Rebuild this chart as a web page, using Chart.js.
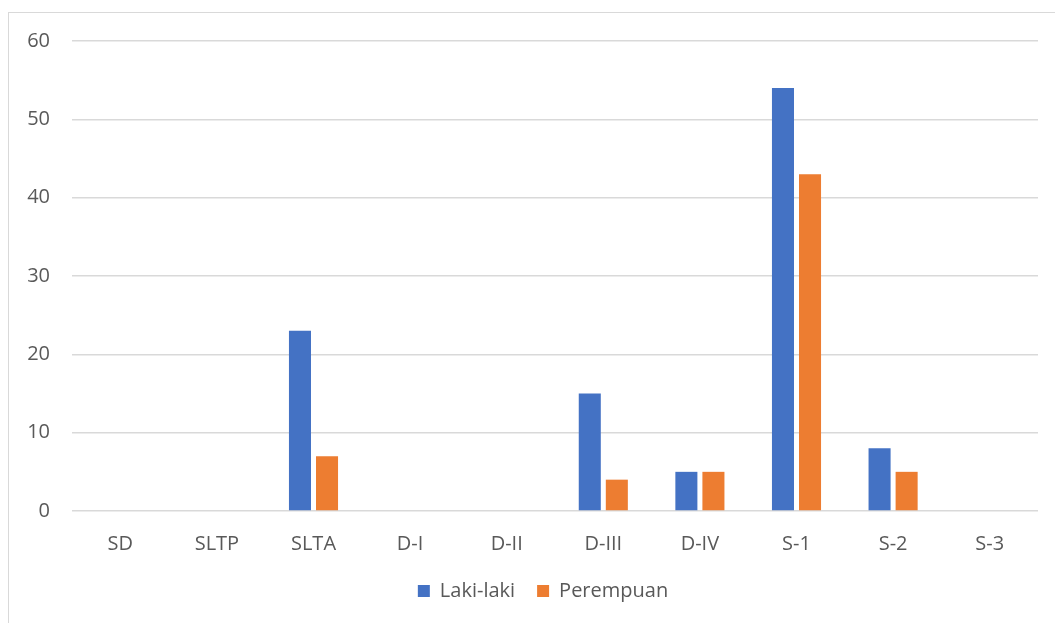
<!DOCTYPE html>
<html>
<head>
<meta charset="utf-8">
<script src="https://cdn.jsdelivr.net/npm/chart.js@4"></script>
<style>
  html, body { margin: 0; padding: 0; background: #fff; overflow: hidden; }
  #frame { position: absolute; left: 8px; top: 12px; width: 1100px; height: 700px; border: 1.5px solid #d9d9d9; }
  #wrap { position: absolute; left: 0; top: 0; width: 1055px; height: 623px; }
</style>
</head>
<body>
<div id="frame"></div>
<div id="wrap"><canvas id="myChart"></canvas></div>
<script>
const categories = ['SD', 'SLTP', 'SLTA', 'D-I', 'D-II', 'D-III', 'D-IV', 'S-1', 'S-2', 'S-3'];
const lakiLaki = [0, 0, 23, 0, 0, 15, 5, 54, 8, 0];
const perempuan = [0, 0, 7, 0, 0, 4, 5, 43, 5, 0];
const yTicks = [0, 10, 20, 30, 40, 50, 60];

const textColor = '#595959';
const fontFamily = "'Open Sans', 'Liberation Sans', sans-serif";

// legend sits a bit right of the canvas centre in the original
const shiftLegend = {
    id: 'shiftLegend',
    afterLayout: (chart) => {
        chart.legend.left += 24;
        chart.legend.right += 24;
    }
};

let ctx = document.getElementById('myChart').getContext('2d');
let myChart = new Chart(ctx, {
    type: 'bar',
    data: {
        labels: categories,
        datasets: [
            { label: 'Laki-laki', data: lakiLaki, backgroundColor: '#4472C4' },
            { label: 'Perempuan', data: perempuan, backgroundColor: '#ED7D31' }
        ]
    },
    options: {
        responsive: true,
        maintainAspectRatio: false,
        animation: false,
        categoryPercentage: 0.56,
        barPercentage: 0.815,
        layout: { padding: { top: 41, right: 17, bottom: 12, left: 0 } },
        plugins: {
            tooltip: { enabled: false },
            legend: {
                position: 'bottom',
                labels: {
                    color: textColor,
                    font: { family: fontFamily, size: 20 },
                    boxWidth: 12,
                    boxHeight: 12,
                    padding: 22
                }
            }
        },
        scales: {
            x: {
                afterFit: (scale) => { scale.height = scale.height - 10; },
                grid: { display: false },
                border: { display: false },
                ticks: { color: textColor, font: { family: fontFamily, size: 20 }, padding: 13, maxRotation: 0 }
            },
            y: {
                min: 0,
                max: 60,
                afterBuildTicks: (scale) => { scale.ticks = yTicks.map(v => ({ value: v })); },
                afterFit: (scale) => { scale.width = 72; },
                grid: { color: '#d9d9d9', lineWidth: 1.5, drawTicks: false },
                border: { display: false },
                ticks: { color: textColor, font: { family: fontFamily, size: 20 }, padding: 22 }
            }
        }
    },
    plugins: [shiftLegend]
});
</script>
</body>
</html>
